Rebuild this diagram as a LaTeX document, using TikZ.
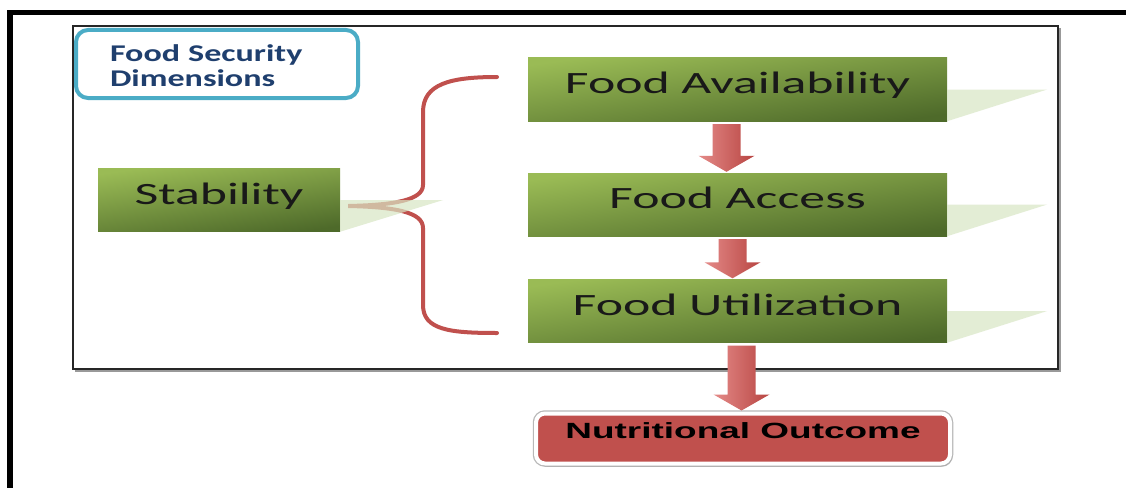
\documentclass[tikz,border=0pt]{standalone}
\usepackage{fontspec}
\usetikzlibrary{calc,shadows}
\newfontfamily\boxfont[FakeStretch=1.67]{Carlito}
\newfontfamily\dimfont[FakeStretch=1.42]{Carlito}
\newfontfamily\outfont[FakeStretch=1.68]{Liberation Sans}
\definecolor{dimblue}{HTML}{4BACC6}
\definecolor{dimtext}{HTML}{1F3F6E}
\definecolor{greenlight}{HTML}{9ABB55}
\definecolor{greendark}{HTML}{4E6A2A}
\definecolor{trigreen}{HTML}{D8E6C4}
\definecolor{bracered}{HTML}{C0504D}
\definecolor{arrowlight}{HTML}{E48A88}
\definecolor{arrowdark}{HTML}{B84542}
\tikzset{
  dimbox/.style={draw=dimblue, line width=4pt, rounded corners=12pt, fill=white, minimum width=282pt, minimum height=68pt, inner xsep=0pt, text width=214pt, align=left, text=dimtext, font=\dimfont\bfseries\fontsize{24}{25}\selectfont},
  greenbox/.style={top color=greenlight, bottom color=greendark, shading angle=8, minimum width=419pt, minimum height=63pt, text height=22pt, text depth=14pt, text=black!90, font=\boxfont\fontsize{31}{34}\selectfont},
  outbox/.style={fill=bracered, preaction={draw=black!28, line width=6.5pt}, draw=white, line width=4pt, rounded corners=9pt, minimum width=414pt, minimum height=50pt, text height=16pt, text depth=16pt, drop shadow={shadow xshift=2pt, shadow yshift=-3pt, fill=black!35}, font=\outfont\bfseries\fontsize{22}{24}\selectfont},
  tri/.style={fill=trigreen, opacity=0.7},
  brace/.style={draw=bracered, line width=4pt, line cap=round}
}
% block arrow: from, to, x shift
\newcommand{\blockdown}[3]{%
  \shade[left color=arrowlight, right color=arrowdark] let \p1=($(#1.south)+(#3,0)$), \p2=(#2.north) in
    ({\x1-14pt},{\y1-3pt}) -- ({\x1+14pt},{\y1-3pt}) -- ({\x1+14pt},{\y2+17pt}) -- ({\x1+28pt},{\y2+17pt})
    -- ({\x1},{\y2+1pt}) -- ({\x1-28pt},{\y2+17pt}) -- ({\x1-14pt},{\y2+17pt}) -- cycle;}
\begin{document}
\begin{tikzpicture}[x=1pt, y=-1pt]
	\useasboundingbox[fill=white] (0,0) rectangle (1126,487);
	\draw[line width=5.5pt] (1130,12.5) -- (10,12.5) -- (10,490);
	\draw[line width=1.2pt, black!40] (75,371) -- (1060,371) -- (1060,28);
	\draw[line width=1.6pt, black!85] (73,26) rectangle (1058,369);
	\node[dimbox] (dims) at (217,64) {\rule{0pt}{20pt}Food Security\\Dimensions};
	\node[greenbox, minimum width=242pt] (stab) at (219,200) {Stability};
	\node[greenbox] (avail) at (737.5,89.5) {Food Availability};
	\node[greenbox] (access) at (737.5,204.5) {Food Access};
	\node[greenbox] (util) at (737.5,311) {Food Utilization};
	\node[outbox] (outcome) at (743,438.5) {Nutritional Outcome};
	\foreach \n in {avail,access,util}
		\fill[tri] (\n.east) -- ++(100,0) -- (\n.south east) -- cycle;
	\coordinate (bt) at (497,77);
	\coordinate (bb) at (497,333);
	\coordinate (tip) at ($(stab.east)+(8,6)$);
	\draw[brace] (bt) .. controls (450,77) and (423,84) .. (423,112) -- (423,185)
		.. controls (423,200) and (395,205) .. (tip)
		.. controls (395,207) and (423,212) .. (423,228) -- (423,305)
		.. controls (423,330) and (450,333) .. (bb);
	\fill[tri] (stab.east) -- ++(103,0) -- (stab.south east) -- cycle;
	\blockdown{avail}{access}{-11}
	\blockdown{access}{util}{-5}
	\blockdown{util}{outcome}{4}
\end{tikzpicture}
\end{document}
